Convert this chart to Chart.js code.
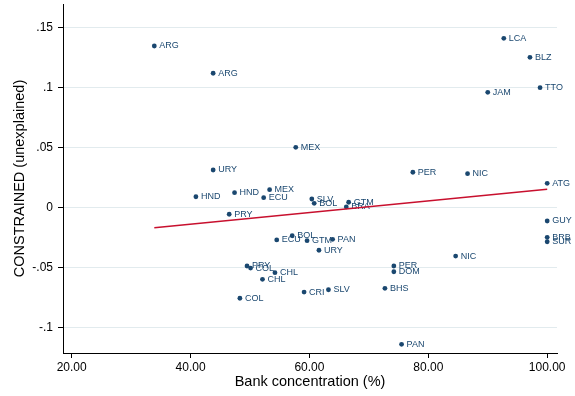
<!DOCTYPE html>
<html>
<head>
<meta charset="utf-8">
<script src="https://cdn.jsdelivr.net/npm/chart.js@4"></script>
<style>
  html, body { margin: 0; padding: 0; background: #fff; }
  #wrap { width: 575px; height: 396px; }
</style>
</head>
<body>
<div id="wrap"><canvas id="c" width="575" height="396"></canvas></div>
<script>
// Country codes for each observation
const countries = [
  'ARG','ARG','LCA','BLZ','TTO','JAM','MEX','URY','PER','NIC',
  'ATG','HND','HND','MEX','ECU','SLV','BOL','GTM','BRA','PRY',
  'GUY','BRB','SUR','ECU','BOL','GTM','PAN','URY','NIC','PRY',
  'COL','CHL','CHL','COL','CRI','SLV','PER','DOM','BHS','PAN'
];
// Bank concentration (%)
const bankConcentration = [
  33.9, 43.8, 92.7, 97.1, 98.8, 90.0, 57.7, 43.8, 77.4, 86.6,
  100.0, 40.9, 47.4, 53.3, 52.3, 60.4, 60.8, 66.6, 66.2, 46.5,
  100.0, 100.0, 100.0, 54.5, 57.1, 59.6, 63.9, 61.6, 84.6, 49.5,
  50.1, 54.2, 52.1, 48.3, 59.1, 63.2, 74.2, 74.2, 72.7, 75.5
];
// CONSTRAINED residual (unexplained part)
const constrained = [
  0.1344, 0.1117, 0.1408, 0.1250, 0.0997, 0.0958, 0.0500, 0.0311, 0.0292, 0.0280,
  0.0200, 0.0088, 0.0122, 0.0147, 0.0080, 0.0069, 0.0033, 0.0042, 0.0003, -0.0058,
  -0.0114, -0.0250, -0.0287, -0.0272, -0.0237, -0.0278, -0.0267, -0.0358, -0.0406, -0.0489,
  -0.0506, -0.0545, -0.0600, -0.0758, -0.0706, -0.0687, -0.0489, -0.0537, -0.0675, -0.1142
];
// Fitted line end points
const fitX = [33.9, 100.0];
const fitY = [-0.0170, 0.0150];

// Axis ticks
const xTicks = [20, 40, 60, 80, 100];
const xTickLabels = ['20.00', '40.00', '60.00', '80.00', '100.00'];
const yTicks = [-0.1, -0.05, 0, 0.05, 0.1, 0.15];
const yTickLabels = ['-.1', '-.05', '0', '.05', '.1', '.15'];

const NAVY = '#1a476f';
const CRIMSON = '#c8102e';
const FONT = "'Liberation Sans', Arial, Helvetica, sans-serif";

// Country labels written to the right of each marker (drawn before the fit line)
const pointLabels = {
  id: 'pointLabels',
  afterDatasetDraw(chart, args) {
    if (args.index !== 0) return;
    const ctx = chart.ctx;
    ctx.save();
    ctx.font = '9px ' + FONT;
    ctx.fillStyle = NAVY;
    ctx.textAlign = 'left';
    ctx.textBaseline = 'middle';
    args.meta.data.forEach((pt, i) => ctx.fillText(countries[i], pt.x + 5, pt.y));
    ctx.restore();
  }
};

new Chart(document.getElementById('c'), {
  data: {
    datasets: [
      {
        type: 'scatter',
        data: bankConcentration.map((x, i) => ({ x: x, y: constrained[i] })),
        backgroundColor: NAVY,
        borderColor: NAVY,
        borderWidth: 0,
        pointRadius: 2.4,
        order: 1
      },
      {
        type: 'line',
        data: fitX.map((x, i) => ({ x: x, y: fitY[i] })),
        borderColor: CRIMSON,
        borderWidth: 1.6,
        pointRadius: 0,
        fill: false,
        tension: 0,
        order: 0
      }
    ]
  },
  options: {
    responsive: false,
    animation: false,
    devicePixelRatio: 1,
    layout: { padding: { left: 0, right: 18, top: 4, bottom: 0 } },
    plugins: { legend: { display: false }, tooltip: { enabled: false } },
    scales: {
      x: {
        type: 'linear',
        min: 18.54,
        max: 101.65,
        bounds: 'data',
        afterBuildTicks: s => { s.ticks = xTicks.map(v => ({ value: v })); },
        afterFit: s => { s.height = 43; s.paddingLeft = 0; s.paddingRight = 0; },
        ticks: {
          callback: (v, i) => xTickLabels[i],
          font: { family: FONT, size: 12 },
          color: '#000',
          padding: 2,
          maxRotation: 0,
          autoSkip: false
        },
        grid: { drawOnChartArea: false, tickLength: 5, tickColor: '#000', color: '#000' },
        border: { color: '#000', width: 1 },
        title: {
          display: true,
          text: 'Bank concentration (%)',
          font: { family: FONT, size: 14.5 },
          color: '#000',
          padding: { top: 0, bottom: 5 }
        }
      },
      y: {
        type: 'linear',
        min: -0.1214,
        max: 0.1694,
        bounds: 'data',
        afterBuildTicks: s => { s.ticks = yTicks.map(v => ({ value: v })); },
        afterFit: s => { s.width = 63; s.paddingTop = 0; s.paddingBottom = 0; },
        ticks: {
          callback: (v, i) => yTickLabels[i],
          font: { family: FONT, size: 12 },
          color: '#000',
          padding: 5
        },
        grid: { color: '#e2ebee', lineWidth: 1, tickLength: 5, tickColor: '#000' },
        border: { color: '#000', width: 1 },
        title: {
          display: true,
          text: 'CONSTRAINED (unexplained)',
          font: { family: FONT, size: 14.5 },
          color: '#000',
          padding: { top: 11, bottom: 0 }
        }
      }
    }
  },
  plugins: [pointLabels]
});
</script>
</body>
</html>
